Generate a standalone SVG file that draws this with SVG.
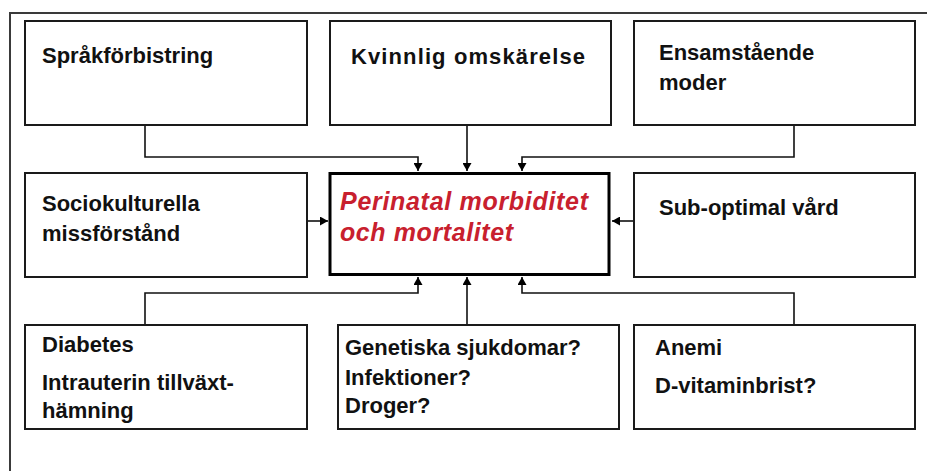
<svg xmlns="http://www.w3.org/2000/svg" width="927" height="471" viewBox="0 0 927 471">
<defs>
<style>
.frame{fill:none;stroke:#3a3a3a;stroke-width:2}
.box{fill:#fff;stroke:#1a1a1a;stroke-width:2}
.main{fill:#fff;stroke:#000;stroke-width:3}
.t{font-family:"Liberation Sans",Arial,sans-serif;font-weight:bold;font-size:22px;fill:#111}
.r{font-family:"Liberation Sans",Arial,sans-serif;font-weight:bold;font-style:italic;font-size:25px;fill:#c8202e}
.c{fill:none;stroke:#111;stroke-width:1.6}
</style>
<marker id="ah" markerUnits="userSpaceOnUse" markerWidth="9" markerHeight="9" refX="8" refY="4.5" orient="auto">
<path d="M0,0 L8,4.5 L0,9 z" fill="#000"/>
</marker>
</defs>
<rect width="927" height="471" fill="#fff"/>
<rect class="frame" x="10" y="13" width="1000" height="1000"/>
<g id="connectors">
<polyline class="c" points="145,125 145,157 418,157 418,171" marker-end="url(#ah)"/>
<polyline class="c" points="467,125 467,171" marker-end="url(#ah)"/>
<polyline class="c" points="794,125 794,157 522,157 522,171" marker-end="url(#ah)"/>
<polyline class="c" points="307,221 328,221" marker-end="url(#ah)"/>
<polyline class="c" points="634,221 612,221" marker-end="url(#ah)"/>
<polyline class="c" points="145,325 145,293 418,293 418,277" marker-end="url(#ah)"/>
<polyline class="c" points="467,325 467,277" marker-end="url(#ah)"/>
<polyline class="c" points="794,325 794,293 522,293 522,277" marker-end="url(#ah)"/>
</g>
<g id="n1"><rect class="box" x="25" y="21" width="282" height="104"/><text class="t" x="42" y="63">Språkförbistring</text></g>
<g id="n2"><rect class="box" x="330" y="21" width="281" height="104"/><text class="t" x="351" y="64" textLength="234" lengthAdjust="spacing">Kvinnlig omskärelse</text></g>
<g id="n3"><rect class="box" x="634" y="21" width="281" height="104"/><text class="t" x="659" y="60">Ensamstående</text><text class="t" x="659" y="90">moder</text></g>
<g id="n4"><rect class="box" x="25" y="173" width="282" height="104"/><text class="t" x="42" y="211">Sociokulturella</text><text class="t" x="42" y="241">missförstånd</text></g>
<g id="n5"><rect class="main" x="330" y="173.5" width="279" height="101"/><text class="r" x="340" y="210" textLength="248" lengthAdjust="spacing">Perinatal morbiditet</text><text class="r" x="340" y="241" textLength="173" lengthAdjust="spacing">och mortalitet</text></g>
<g id="n6"><rect class="box" x="634" y="173" width="281" height="104"/><text class="t" x="659" y="215">Sub-optimal vård</text></g>
<g id="n7"><rect class="box" x="25" y="325" width="282" height="104"/><text class="t" x="42" y="352">Diabetes</text><text class="t" x="42" y="390">Intrauterin tillväxt-</text><text class="t" x="42" y="418">hämning</text></g>
<g id="n8"><rect class="box" x="338" y="325" width="281" height="104"/><text class="t" x="345" y="355">Genetiska sjukdomar?</text><text class="t" x="345" y="385">Infektioner?</text><text class="t" x="345" y="413">Droger?</text></g>
<g id="n9"><rect class="box" x="634" y="325" width="281" height="104"/><text class="t" x="655" y="355">Anemi</text><text class="t" x="655" y="393">D-vitaminbrist?</text></g>
</svg>
